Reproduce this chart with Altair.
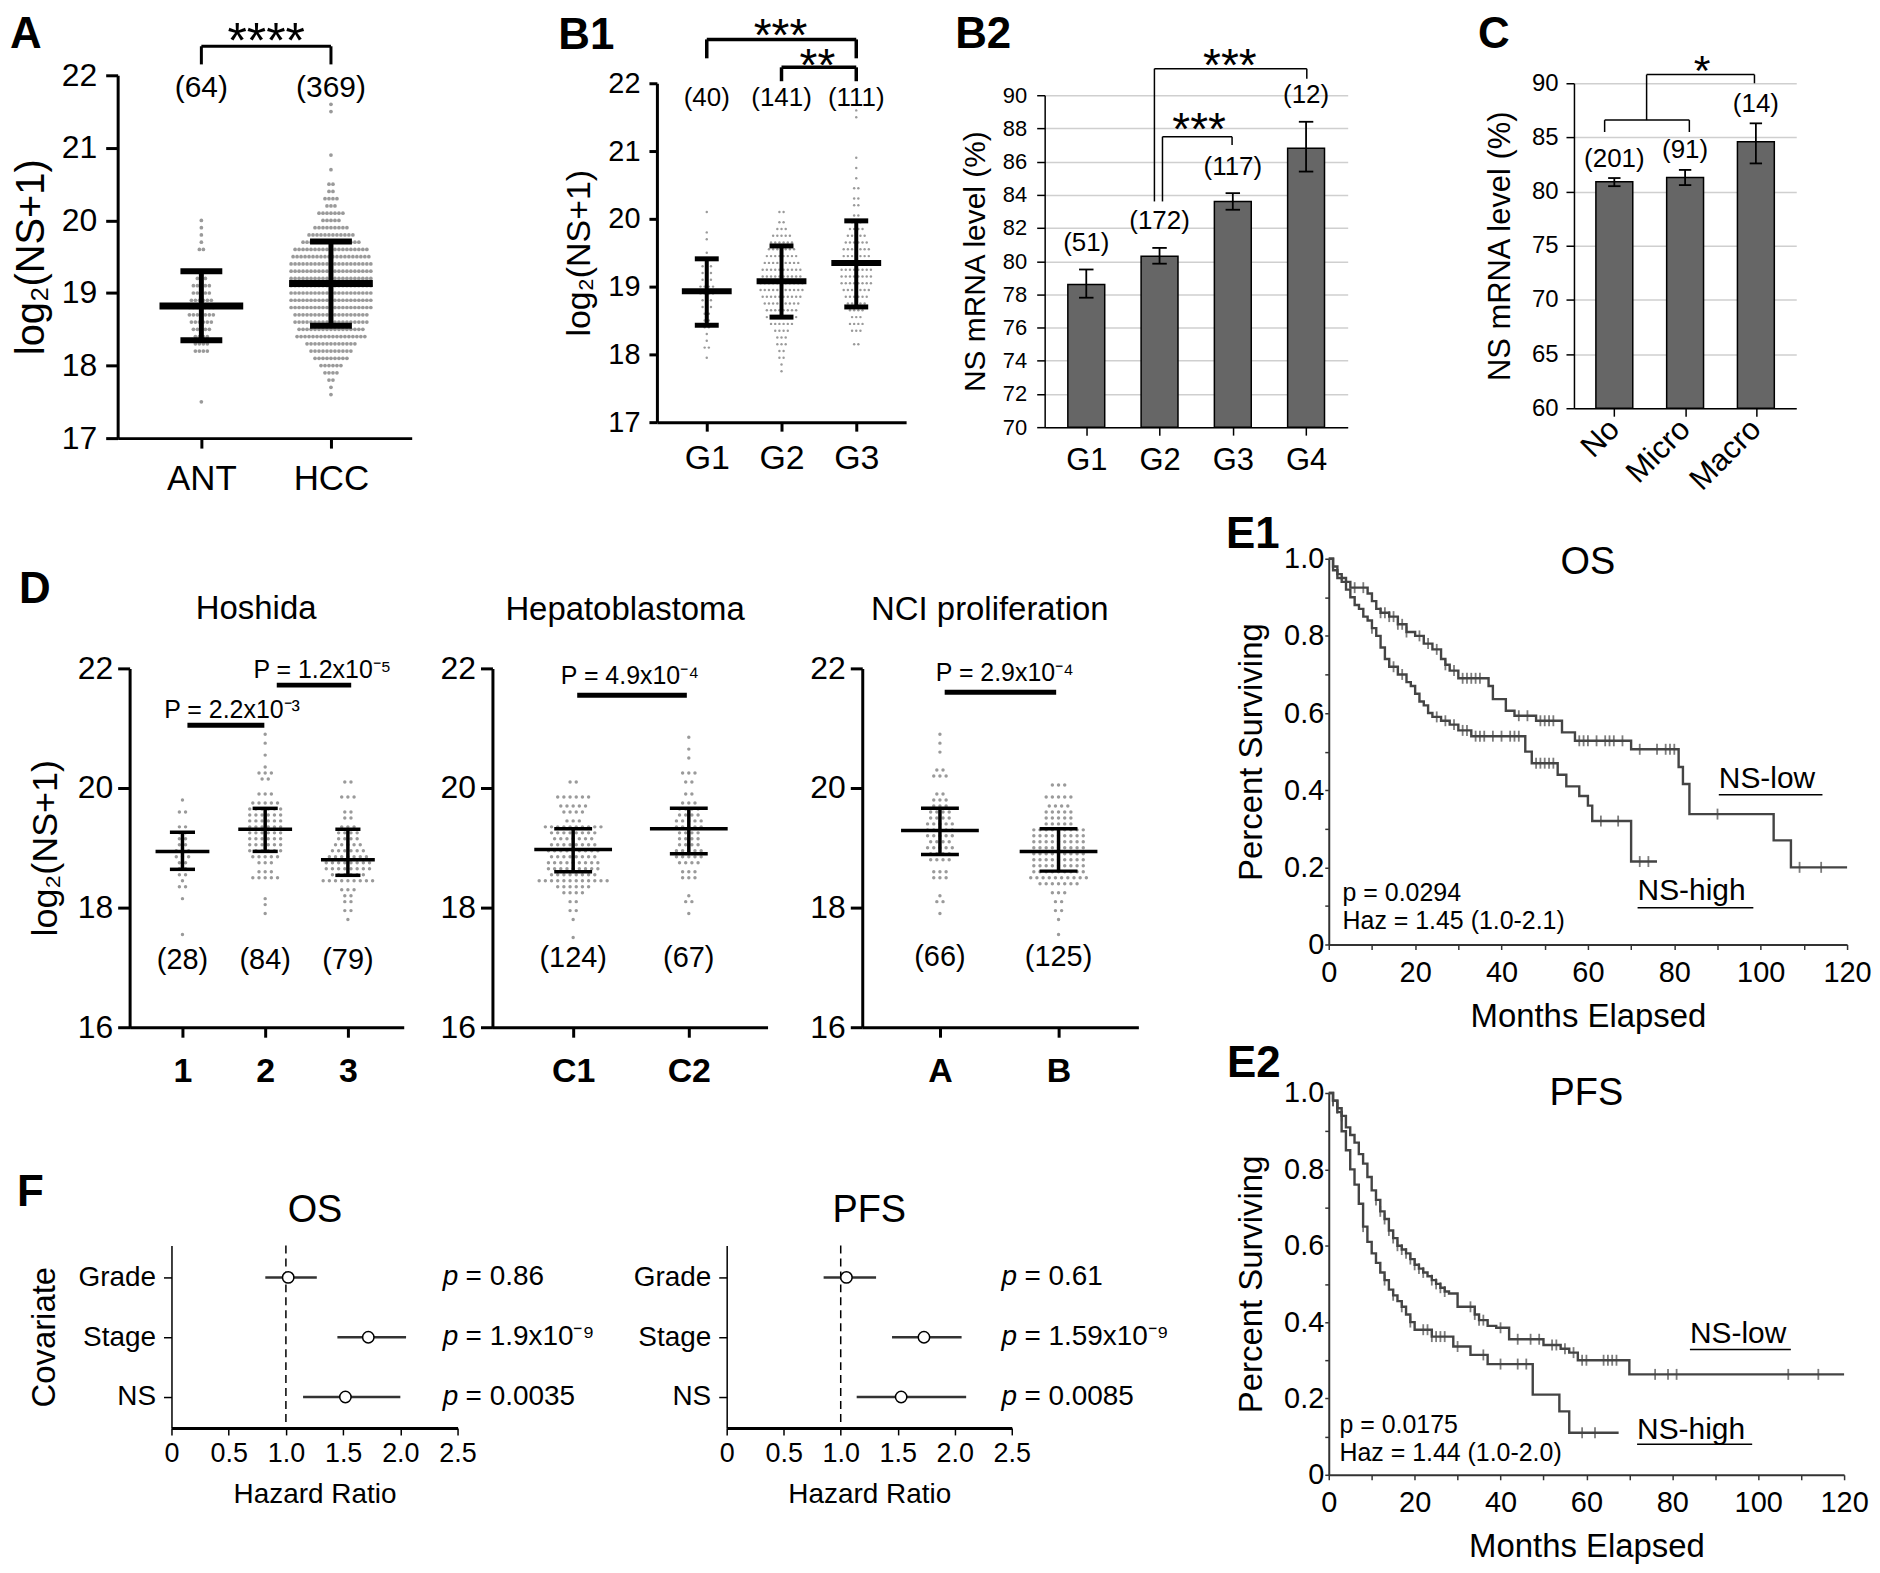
import altair as alt
import pandas as pd

FONT = "Liberation Sans"
DOT = "#9a9a9a"
BARFILL = "#666666"
KMC = "#444444"
AXC = "#333333"

# ======================= DATA =======================
# ---- Panel A : log2(NS+1), dot counts per value level ----
A_NAMES = ["ANT", "HCC"]
A_NLAB = ["(64)", "(369)"]
A_ANT_LEVELS = [17.5, 18.2, 18.3, 18.4, 18.5, 18.6, 18.7, 18.8, 18.9, 19.0, 19.1, 19.2, 19.3, 19.6, 19.7, 19.8, 19.9, 20.0]
A_ANT_COUNTS = [1, 4, 4, 4, 5, 6, 7, 7, 6, 5, 5, 3, 2, 2, 1, 1, 1, 1]
A_HCC_LEVELS = [17.6, 17.7, 17.8, 17.9, 18.0, 18.1, 18.2, 18.3, 18.4, 18.5, 18.6, 18.7, 18.8, 18.9, 19.0, 19.1,
                19.2, 19.3, 19.4, 19.5, 19.6, 19.7, 19.8, 19.9, 20.0, 20.1, 20.2, 20.3, 20.4, 20.5, 20.7, 20.9, 21.5, 21.6]
A_HCC_COUNTS = [1, 1, 2, 4, 6, 9, 11, 13, 18, 17, 19, 19, 21, 21, 21, 21,
                21, 21, 21, 20, 19, 15, 12, 9, 5, 7, 3, 4, 2, 2, 1, 1, 1, 1]
A_MEAN = [18.82, 19.13]
A_SD_LO = [18.35, 18.55]
A_SD_HI = [19.30, 19.71]

# ---- Panel B1 ----
B1_NAMES = ["G1", "G2", "G3"]
B1_NLAB = ["(40)", "(141)", "(111)"]
B1_G1_LEVELS = [17.95, 18.1, 18.2, 18.3, 18.4, 18.5, 18.6, 18.7, 18.8, 18.9, 19.0, 19.1, 19.2, 19.3, 19.4, 19.5, 19.7, 19.8, 20.1]
B1_G1_COUNTS = [1, 2, 1, 1, 2, 2, 2, 3, 3, 4, 4, 3, 3, 3, 2, 1, 1, 1, 1]
B1_G2_LEVELS = [17.75, 17.85, 17.95, 18.05, 18.15, 18.25, 18.35, 18.45, 18.55, 18.65, 18.75, 18.85,
                18.95, 19.05, 19.15, 19.25, 19.35, 19.45, 19.55, 19.65, 19.75, 19.85, 19.95, 20.1]
B1_G2_COUNTS = [1, 1, 2, 2, 3, 3, 4, 6, 8, 8, 9, 10, 11, 11, 10, 10, 9, 8, 7, 6, 5, 3, 2, 2]
B1_G3_LEVELS = [18.15, 18.35, 18.45, 18.55, 18.65, 18.75, 18.85, 18.95, 19.05, 19.15, 19.25, 19.35, 19.45, 19.55,
                19.65, 19.75, 19.85, 19.95, 20.05, 20.2, 20.3, 20.45, 20.6, 20.75, 20.9, 21.5, 21.6]
B1_G3_COUNTS = [2, 3, 4, 3, 4, 5, 6, 7, 8, 8, 8, 8, 7, 7, 6, 5, 4, 3, 2, 2, 2, 2, 1, 1, 1, 1, 1]
B1_MEAN = [18.93, 19.08, 19.35]
B1_SD_LO = [18.43, 18.55, 18.70]
B1_SD_HI = [19.41, 19.60, 19.97]

# ---- Panel B2 : NS mRNA level (%) by grade ----
B2_NAMES = ["G1", "G2", "G3", "G4"]
B2_NLAB = ["(51)", "(172)", "(117)", "(12)"]
B2_MEAN = [78.6, 80.3, 83.6, 86.8]
B2_ERR_LO = [77.8, 79.85, 83.1, 85.4]
B2_ERR_HI = [79.5, 80.8, 84.1, 88.4]

# ---- Panel C : vascular invasion ----
C_NAMES = ["No", "Micro", "Macro"]
C_NLAB = ["(201)", "(91)", "(14)"]
C_MEAN = [80.9, 81.3, 84.6]
C_ERR_LO = [80.5, 80.6, 82.6]
C_ERR_HI = [81.25, 82.0, 86.3]

# ---- Panel D ----
D1_NAMES = ["1", "2", "3"]
D1_NLAB = ["(28)", "(84)", "(79)"]
D1_G1_LEVELS = [17.55, 18.15, 18.35, 18.45, 18.55, 18.65, 18.75, 18.85, 18.95, 19.05, 19.15, 19.25, 19.35, 19.6, 19.8]
D1_G1_COUNTS = [1, 1, 2, 1, 2, 2, 2, 3, 3, 2, 2, 2, 2, 2, 1]
D1_G2_LEVELS = [17.9, 18.05, 18.15, 18.5, 18.6, 18.75, 18.85, 18.95, 19.05, 19.15, 19.25, 19.35, 19.45, 19.55,
                19.65, 19.75, 19.9, 20.15, 20.25, 20.35, 20.55, 20.75, 20.9]
D1_G2_COUNTS = [1, 1, 1, 5, 3, 3, 5, 6, 6, 6, 6, 6, 6, 6, 6, 5, 3, 2, 3, 1, 1, 1, 1]
D1_G3_LEVELS = [17.8, 17.95, 18.1, 18.2, 18.3, 18.45, 18.55, 18.65, 18.75, 18.85, 18.95, 19.05, 19.15, 19.25,
                19.35, 19.5, 19.6, 19.85, 20.1]
D1_G3_COUNTS = [1, 2, 2, 2, 3, 9, 6, 8, 8, 7, 6, 5, 4, 4, 3, 2, 2, 3, 2]
D1_MEAN = [18.94, 19.31, 18.80]
D1_SD_LO = [18.64, 18.94, 18.54]
D1_SD_HI = [19.26, 19.66, 19.31]

D2_NAMES = ["C1", "C2"]
D2_NLAB = ["(124)", "(67)"]
D2_C1_LEVELS = [17.5, 17.8, 17.95, 18.1, 18.25, 18.35, 18.45, 18.55, 18.65, 18.75, 18.85, 18.95, 19.05, 19.15,
                19.25, 19.35, 19.45, 19.6, 19.7, 19.85, 20.1]
D2_C1_COUNTS = [1, 1, 2, 2, 4, 6, 12, 8, 9, 9, 8, 9, 8, 7, 8, 10, 3, 4, 5, 6, 2]
D2_C2_LEVELS = [17.9, 18.1, 18.2, 18.5, 18.6, 18.75, 18.85, 18.95, 19.05, 19.15, 19.25, 19.35, 19.45, 19.55,
                19.65, 19.75, 19.9, 20.1, 20.25, 20.5, 20.65, 20.85]
D2_C2_COUNTS = [1, 2, 1, 3, 3, 4, 5, 5, 4, 4, 4, 5, 5, 4, 4, 3, 2, 2, 3, 1, 1, 1]
D2_MEAN = [18.97, 19.32]
D2_SD_LO = [18.60, 18.90]
D2_SD_HI = [19.32, 19.66]

D3_NAMES = ["A", "B"]
D3_NLAB = ["(66)", "(125)"]
D3_A_LEVELS = [17.9, 18.1, 18.2, 18.5, 18.6, 18.8, 18.9, 19.0, 19.1, 19.2, 19.3, 19.4, 19.5, 19.6, 19.7, 19.8,
               19.9, 20.2, 20.3, 20.6, 20.75, 20.9]
D3_A_COUNTS = [1, 2, 1, 3, 3, 4, 4, 5, 4, 5, 5, 5, 4, 4, 3, 3, 2, 3, 2, 1, 1, 1]
D3_B_LEVELS = [17.55, 17.8, 17.95, 18.1, 18.25, 18.4, 18.5, 18.6, 18.7, 18.8, 18.9, 19.0, 19.1, 19.2, 19.3,
               19.4, 19.5, 19.6, 19.7, 19.85, 20.05]
D3_B_COUNTS = [1, 1, 2, 2, 3, 7, 10, 9, 9, 9, 9, 9, 9, 9, 9, 5, 5, 5, 4, 5, 3]
D3_MEAN = [19.29, 18.94]
D3_SD_LO = [18.89, 18.61]
D3_SD_HI = [19.66, 19.32]

# ---- Panel E : Kaplan-Meier steps (months, fraction surviving) ----
OS_LOW_T = [0, 1, 2, 3, 4, 5, 9, 10, 11, 12, 14, 16, 18, 20, 22, 24, 26, 27, 28, 30, 37, 38, 41, 43, 48, 54, 57,
            70, 81, 82, 83.5, 103, 107, 120]
OS_LOW_S = [1.0, 0.98, 0.96, 0.95, 0.94, 0.925, 0.91, 0.89, 0.87, 0.86, 0.85, 0.83, 0.81, 0.80, 0.78, 0.765, 0.74,
            0.725, 0.71, 0.69, 0.67, 0.636, 0.606, 0.593, 0.58, 0.55, 0.528, 0.506, 0.46, 0.416, 0.338, 0.27, 0.20, 0.20]
OS_HIGH_T = [0, 1, 2, 3, 4, 5, 6, 7, 8, 9, 10, 11, 12, 13, 14, 16, 18, 19, 20, 21, 22, 23, 24, 26, 28, 30, 33,
             45.5, 47, 53, 55, 58, 60, 61, 70, 76]
OS_HIGH_S = [1.0, 0.97, 0.95, 0.94, 0.92, 0.90, 0.88, 0.87, 0.85, 0.84, 0.82, 0.80, 0.77, 0.74, 0.72, 0.70, 0.68,
             0.67, 0.65, 0.63, 0.62, 0.60, 0.59, 0.58, 0.57, 0.555, 0.54, 0.50, 0.47, 0.44, 0.41, 0.385, 0.36, 0.32,
             0.215, 0.215]
OS_LOW_CENS = [6, 8, 12, 13, 14, 15, 16, 17, 18, 21, 23, 25, 27, 29, 31, 32, 33, 34, 35, 44, 46, 49, 50, 51, 52,
               58, 59, 60, 62, 64, 65, 66, 68, 72, 76, 78, 79, 80, 90, 109, 114]
OS_HIGH_CENS = [10, 15, 17, 25, 27, 29, 31, 32, 34, 35, 36, 38, 40, 42, 43, 44, 48, 49, 50, 51, 52, 63, 67, 72, 74]

PFS_LOW_T = [0, 1, 2, 3, 4, 5, 6, 7, 8, 9, 10, 11, 12, 13, 14, 15, 16, 17, 18, 19, 20, 21, 22, 23, 24, 25, 26, 27,
             28, 30, 34, 35, 37, 39, 42, 50, 54, 56, 58, 70, 120]
PFS_LOW_S = [1.0, 0.98, 0.96, 0.94, 0.91, 0.89, 0.87, 0.84, 0.815, 0.78, 0.745, 0.72, 0.69, 0.67, 0.64, 0.62, 0.60,
             0.59, 0.58, 0.565, 0.55, 0.54, 0.53, 0.52, 0.51, 0.50, 0.49, 0.48, 0.475, 0.44, 0.42, 0.405, 0.39, 0.385,
             0.355, 0.34, 0.33, 0.32, 0.30, 0.263, 0.263]
PFS_HIGH_T = [0, 1, 2, 3, 4, 5, 6, 7, 8, 9, 10, 11, 12, 13, 14, 15, 16, 17, 18, 19, 20, 24, 29, 33, 37, 47.5, 53.7,
              56, 67.5]
PFS_HIGH_S = [1.0, 0.98, 0.95, 0.90, 0.85, 0.80, 0.76, 0.71, 0.65, 0.61, 0.58, 0.555, 0.53, 0.51, 0.485, 0.47,
              0.455, 0.44, 0.42, 0.40, 0.38, 0.362, 0.336, 0.314, 0.29, 0.21, 0.166, 0.11, 0.11]
PFS_LOW_CENS = [1, 2, 3, 11, 12, 13, 14, 15, 16, 17, 18, 19, 20, 21, 22, 24, 25, 26, 27, 33, 34, 35, 36, 40, 44, 47,
                49, 52, 53, 55, 57, 59, 60, 64, 65, 66, 67, 76, 79, 81, 107, 114]
PFS_HIGH_CENS = [1, 8, 13, 15, 17, 19, 22, 23, 24, 25, 26, 27, 30, 36, 40, 44, 46, 59, 62]

# ---- Panel F : Cox model hazard ratios ----
FOREST_COV = ["Grade", "Stage", "NS"]
OS_HR = [1.02, 1.72, 1.52]
OS_LO = [0.82, 1.45, 1.15]
OS_HI = [1.27, 2.05, 2.00]
OS_P = ["0.86", "1.9x10\u207b\u2079", "0.0035"]
PFS_HR = [1.05, 1.73, 1.53]
PFS_LO = [0.85, 1.45, 1.14]
PFS_HI = [1.31, 2.06, 2.10]
PFS_P = ["0.61", "1.59x10\u207b\u2079", "0.0085"]

LOG2_TITLE = "log\u2082(NS+1)"


# ======================= HELPERS =======================
def lin(lo, hi):
    return alt.Scale(domain=[lo, hi], nice=False, zero=False)


def cat_expr(names):
    return "[" + ",".join("'" + n + "'" for n in names) + "][round(datum.value) - 1]"


def swarm_df(level_lists, count_lists, dx):
    rows = []
    for gi, (levels, counts) in enumerate(zip(level_lists, count_lists), start=1):
        for lv, c in zip(levels, counts):
            for k in range(c):
                rows.append({"x": gi + (k - (c - 1) / 2.0) * dx, "y": lv})
    return pd.DataFrame(rows)


def L_text(items, X, Y, **mk):
    df = pd.DataFrame(items, columns=["x", "y", "t"])
    return alt.Chart(df).mark_text(**mk).encode(x=X("x"), y=Y("y"), text="t:N")


def L_segs(segs, X, Y, **mk):
    df = pd.DataFrame(segs, columns=["x", "y", "x2", "y2"])
    return alt.Chart(df).mark_rule(**mk).encode(x=X("x"), y=Y("y"), x2="x2", y2="y2")


def letter(x, y, t, X, Y):
    return L_text([(x, y, t)], X, Y, fontSize=44, fontWeight="bold", align="left", baseline="alphabetic")


def swarm_panel(levels, counts, means, lo, hi, names, nlab, p, extra):
    xs, ys = lin(*p["xdom"]), lin(*p["ydom"])
    ppx = p["w"] / (p["xdom"][1] - p["xdom"][0])
    xaxis = alt.Axis(values=list(range(1, len(names) + 1)), labelExpr=cat_expr(names), title=None,
                     domainWidth=p["aw"], tickWidth=p["aw"], tickSize=p["xtick"], labelFontSize=p["xfs"],
                     labelFontWeight=p.get("xfw", "normal"), labelPadding=p["xpad"], labelAngle=0,
                     labelFlush=False, labelOverlap=False)
    yaxis = alt.Axis(values=p["yvals"], title=p.get("ytitle"), titleFontSize=p.get("ytfs", 34),
                     titlePadding=p.get("ytpad", 10), domainWidth=p["aw"], tickWidth=p["aw"], tickSize=p["ytick"],
                     labelFontSize=p["yfs"], labelPadding=p["ypad"], labelFlush=False, labelOverlap=False)

    def X(f):
        return alt.X(f, type="quantitative", scale=xs, axis=xaxis)

    def Y(f):
        return alt.Y(f, type="quantitative", scale=ys, axis=yaxis)

    g = list(range(1, len(names) + 1))
    mh, chh = p["mean_px"] / ppx, p["cap_px"] / ppx
    layers = [
        alt.Chart(swarm_df(levels, counts, p["dot_px"] / ppx)).mark_circle(
            size=p["dot_size"], color=DOT, opacity=1).encode(x=X("x"), y=Y("y")),
        L_segs([(i, l, i, h) for i, l, h in zip(g, lo, hi)], X, Y, color="black", strokeWidth=p["vw"]),
        L_segs([(i - chh, v, i + chh, v) for i, v in zip(g + g, list(lo) + list(hi))], X, Y,
               color="black", strokeWidth=p["cw"]),
        L_segs([(i - mh, m, i + mh, m) for i, m in zip(g, means)], X, Y, color="black", strokeWidth=p["mw"]),
        L_text([(i, p["ny"], t) for i, t in zip(g, nlab)], X, Y, fontSize=p["nfs"], align="center",
               baseline="middle"),
    ]
    layers += extra(X, Y)
    return alt.layer(*layers).properties(width=p["w"], height=p["h"])


def bar_panel(names, vals, elo, ehi, nlab, p, extra):
    n = len(names)
    xs, ys = lin(0.5, n + 0.5), lin(*p["ydom"])
    ppx = p["w"] / n
    xaxis = alt.Axis(values=list(range(1, n + 1)), labelExpr=cat_expr(names), title=None, domainWidth=p["aw"],
                     tickWidth=p["aw"], tickSize=p["tick"], labelFontSize=p["xfs"], labelPadding=p["xpad"],
                     labelAngle=p.get("xangle", 0), labelAlign=p.get("xalign", "center"),
                     labelBaseline=p.get("xbase", "top"), labelFlush=False, labelOverlap=False)
    yaxis = alt.Axis(values=p["yvals"], title=p["ytitle"], titleFontSize=p["ytfs"], titlePadding=p["ytpad"],
                     domainWidth=p["aw"], tickWidth=p["aw"], tickSize=p["tick"], labelFontSize=p["yfs"],
                     labelPadding=p["ypad"], grid=True, gridColor="#cfcfcf", gridWidth=1.5,
                     labelFlush=False, labelOverlap=False)

    def X(f):
        return alt.X(f, type="quantitative", scale=xs, axis=xaxis)

    def Y(f):
        return alt.Y(f, type="quantitative", scale=ys, axis=yaxis)

    g = list(range(1, n + 1))
    chh = p["cap_px"] / ppx
    bars = alt.Chart(pd.DataFrame({"x": g, "v": vals, "b": [p["ydom"][0]] * n})).mark_bar(
        size=p["bw"], fill=BARFILL, stroke="black", strokeWidth=1.5).encode(x=X("x"), y=Y("v"), y2="b")
    layers = [
        bars,
        L_segs([(i, l, i, h) for i, l, h in zip(g, elo, ehi)], X, Y, color="black", strokeWidth=1.8),
        L_segs([(i - chh, v, i + chh, v) for i, v in zip(g + g, list(elo) + list(ehi))], X, Y,
               color="black", strokeWidth=1.8),
        L_text([(i, h + p["ngap"], t) for i, h, t in zip(g, ehi, nlab)], X, Y, fontSize=p["nfs"],
               align="center", baseline="middle"),
    ]
    layers += extra(X, Y)
    return alt.layer(*layers).properties(width=p["w"], height=p["h"])


def step_at(ts, ss, t):
    v = ss[0]
    for ti, si in zip(ts, ss):
        if ti <= t:
            v = si
        else:
            break
    return v


def km_panel(curves, cens, p, extra):
    xs, ys = lin(0, 120), lin(0, 1)
    common = dict(domainColor=AXC, tickColor=AXC, domainWidth=2, tickWidth=1.5, labelFontSize=29,
                  titleFontSize=33, labelFlush=False, labelOverlap=False)
    xaxis = alt.Axis(values=list(range(0, 121, 10)),
                     labelExpr="datum.value % 20 == 0 ? format(datum.value, 'd') : ''",
                     title="Months Elapsed", tickSize=5, labelPadding=9, titlePadding=13, **common)
    yaxis = alt.Axis(values=[i / 10 for i in range(11)],
                     labelExpr="datum.value == 0 ? '0' : (round(datum.value * 10) % 2 == 0 ? format(datum.value, '.1f') : '')",
                     title="Percent Surviving", tickSize=4, labelPadding=1, titlePadding=15, **common)

    def X(f):
        return alt.X(f, type="quantitative", scale=xs, axis=xaxis)

    def Y(f):
        return alt.Y(f, type="quantitative", scale=ys, axis=yaxis)

    rows, crow = [], []
    for gname, (ts, ss) in curves.items():
        for t, s in zip(ts, ss):
            rows.append({"g": gname, "t": t, "s": s})
        for t in cens[gname]:
            crow.append({"g": gname, "t": t, "s": step_at(ts, ss, t)})
    lines = alt.Chart(pd.DataFrame(rows)).mark_line(interpolate="step-after", color=KMC, strokeWidth=2.4).encode(
        x=X("t"), y=Y("s"), detail="g:N")
    ticks = alt.Chart(pd.DataFrame(crow)).mark_tick(orient="vertical", color=KMC, thickness=1.8, size=11).encode(
        x=X("t"), y=Y("s"))
    layers = [lines, ticks] + extra(X, Y)
    return alt.layer(*layers).properties(width=p["w"], height=p["h"])


def forest_panel(hr, lo, hi, ptxt, p, extra):
    xs = lin(0, 2.5)
    ys = lin(0.483, 3.533)
    ncov = len(FOREST_COV)
    xaxis = alt.Axis(values=[0, 0.5, 1, 1.5, 2, 2.5],
                     labelExpr="datum.value == 0 ? '0' : format(datum.value, '.1f')",
                     title="Hazard Ratio", titleFontSize=28, titlePadding=14, domainWidth=3, tickWidth=1.5,
                     tickSize=7, labelFontSize=27, labelPadding=6, labelFlush=False, labelOverlap=False)
    yaxis = alt.Axis(values=list(range(1, ncov + 1)), labelExpr=cat_expr(list(reversed(FOREST_COV))),
                     title=p.get("ytitle"), titleFontSize=33, titlePadding=17, domainWidth=1.5, tickWidth=1.5,
                     tickSize=8, labelFontSize=28, labelPadding=8, labelFlush=False, labelOverlap=False)

    def X(f):
        return alt.X(f, type="quantitative", scale=xs, axis=xaxis)

    def Y(f):
        return alt.Y(f, type="quantitative", scale=ys, axis=yaxis)

    df = pd.DataFrame({"r": [ncov - i for i in range(ncov)], "hr": hr, "lo": lo, "hi": hi,
                       "px": [p["px"]] * ncov, "pp": ["p"] * ncov, "pv": ["= " + s for s in ptxt]})
    ref = alt.Chart(pd.DataFrame({"x": [1.0]})).mark_rule(color="black", strokeWidth=1.5,
                                                          strokeDash=[8, 5]).encode(x=X("x"))
    ci = alt.Chart(df).mark_rule(color="#333333", strokeWidth=2.5).encode(x=X("lo"), x2="hi", y=Y("r"))
    pt = alt.Chart(df).mark_point(filled=True, fill="white", stroke="black", strokeWidth=1.5, size=130,
                                  opacity=1).encode(x=X("hr"), y=Y("r"))
    t1 = alt.Chart(df).mark_text(fontSize=28, fontStyle="italic", align="left", baseline="middle").encode(
        x=X("px"), y=Y("r"), text="pp:N")
    t2 = alt.Chart(df).mark_text(fontSize=28, align="left", baseline="middle", dx=23).encode(
        x=X("px"), y=Y("r"), text="pv:N")
    layers = [ref, ci, pt, t1, t2] + extra(X, Y)
    return alt.layer(*layers).properties(width=p["w"], height=p["h"])


def spacer(w, h):
    return alt.Chart(pd.DataFrame({"v": [0]})).mark_rule(opacity=0).encode(
        x=alt.value(0), y=alt.value(0), y2=alt.value(h)).properties(width=w, height=h)


def wrap_top(ch):
    # aligns this view by its top bound when placed in a row
    return alt.vconcat(spacer(1, 1), ch, spacing=0)


def wrap_left(ch, s=0):
    # aligns this view by its left bound when placed in a column
    return alt.hconcat(spacer(1, 1), ch, spacing=s)


# ======================= PANELS =======================
pA = dict(xdom=(0.354, 2.623), ydom=(17, 22), w=295, h=364, yvals=[17, 18, 19, 20, 21, 22], ytitle=LOG2_TITLE,
          ytfs=40, ytpad=10, aw=3, xtick=10, ytick=12, xfs=35, xpad=14, yfs=32, ypad=9, dot_px=4.0, dot_size=14,
          mean_px=42, cap_px=21, mw=7, cw=6, vw=5, ny=21.82, nfs=30)


def a_extra(X, Y):
    return [
        letter(-0.477, 22.37, "A", X, Y),
        L_segs([(1, 22.4, 2, 22.4), (1, 22.4, 1, 22.15), (2, 22.4, 2, 22.15)], X, Y, color="black", strokeWidth=3),
        L_text([(1.5, 22.24, "****")], X, Y, fontSize=50, align="center", baseline="alphabetic"),
    ]


panelA = swarm_panel([A_ANT_LEVELS, A_HCC_LEVELS], [A_ANT_COUNTS, A_HCC_COUNTS], A_MEAN, A_SD_LO, A_SD_HI,
                     A_NAMES, A_NLAB, pA, a_extra)

pB1 = dict(xdom=(0.333, 3.667), ydom=(17, 22), w=250, h=340, yvals=[17, 18, 19, 20, 21, 22], ytitle=LOG2_TITLE,
           ytfs=34, ytpad=11, aw=3, xtick=9, ytick=8, xfs=34, xpad=10, yfs=29, ypad=9, dot_px=4.2, dot_size=6,
           mean_px=25, cap_px=12, mw=6, cw=5, vw=4, ny=21.78, nfs=26)


def b1_extra(X, Y):
    return [
        letter(-0.987, 22.5, "B1", X, Y),
        L_segs([(1, 22.647, 3, 22.647), (1, 22.647, 1, 22.368), (3, 22.647, 3, 22.368),
                (2, 22.235, 3, 22.235), (2, 22.235, 2, 22.03), (3, 22.235, 3, 22.03)], X, Y,
               color="black", strokeWidth=3.5),
        L_text([(1.986, 22.47, "***"), (2.48, 22.03, "**")], X, Y, fontSize=46, align="center",
               baseline="alphabetic"),
    ]


panelB1 = swarm_panel([B1_G1_LEVELS, B1_G2_LEVELS, B1_G3_LEVELS], [B1_G1_COUNTS, B1_G2_COUNTS, B1_G3_COUNTS],
                      B1_MEAN, B1_SD_LO, B1_SD_HI, B1_NAMES, B1_NLAB, pB1, b1_extra)

pB2 = dict(ydom=(70, 90), w=304, h=333, yvals=list(range(70, 91, 2)), ytitle="NS mRNA level (%)", ytfs=30,
           ytpad=12, aw=1.5, tick=8, xfs=31, xpad=10, yfs=22, ypad=10, bw=37, cap_px=7.5, ngap=1.6, nfs=26)


def b2_extra(X, Y):
    return [
        letter(-0.79, 92.82, "B2", X, Y),
        L_segs([(2.04, 87.5, 2.99, 87.5), (2.04, 87.5, 2.04, 83.6), (2.99, 87.5, 2.99, 87.0),
                (1.93, 91.6, 4.01, 91.6), (1.93, 91.6, 1.93, 83.6), (4.01, 91.6, 4.01, 91.0)], X, Y,
               color="black", strokeWidth=1.5),
        L_text([(2.54, 86.99, "***"), (2.96, 90.84, "***")], X, Y, fontSize=46, align="center",
               baseline="alphabetic"),
    ]


panelB2 = bar_panel(B2_NAMES, B2_MEAN, B2_ERR_LO, B2_ERR_HI, B2_NLAB, pB2, b2_extra)

pC = dict(ydom=(60, 90), w=223, h=326, yvals=list(range(60, 91, 5)), ytitle="NS mRNA level (%)", ytfs=31,
          ytpad=15, aw=1.5, tick=8, xfs=31, xpad=8, xangle=-45, xalign="right", xbase="middle", yfs=24, ypad=8,
          bw=37, cap_px=6.5, ngap=1.8, nfs=26)


def c_extra(X, Y):
    return [
        letter(-0.927, 93.22, "C", X, Y),
        L_segs([(0.863, 86.6, 2.06, 86.6), (0.863, 86.6, 0.863, 85.5), (2.06, 86.6, 2.06, 85.5),
                (1.456, 86.6, 1.456, 90.8), (1.456, 90.8, 2.98, 90.8), (2.98, 90.8, 2.98, 90.0)], X, Y,
               color="black", strokeWidth=1.5),
        L_text([(2.24, 89.8, "*")], X, Y, fontSize=43, align="center", baseline="alphabetic"),
    ]


panelC = bar_panel(C_NAMES, C_MEAN, C_ERR_LO, C_ERR_HI, C_NLAB, pC, c_extra)

pD_common = dict(ydom=(16, 22), h=360, yvals=[16, 18, 20, 22], ytfs=36, ytpad=13, aw=3, xtick=10, ytick=12,
                 xfs=34, xfw="bold", xpad=17, yfs=32, ypad=5, dot_px=6.2, dot_size=12, mw=3.5, cw=3.5, vw=3.5,
                 nfs=29)
pD1 = dict(pD_common, xdom=(0.361, 3.675), w=275, ytitle=LOG2_TITLE, mean_px=27, cap_px=12.6, ny=17.12)
pD2 = dict(pD_common, xdom=(0.302, 2.681), w=276, mean_px=39, cap_px=19, ny=17.15)
pD3 = dict(pD_common, xdom=(0.345, 2.673), w=277, mean_px=39, cap_px=19, ny=17.17)


def d1_extra(X, Y):
    return [
        letter(-0.976, 23.1, "D", X, Y),
        L_text([(1.891, 23.0, "Hoshida")], X, Y, fontSize=33, align="center", baseline="middle"),
        L_text([(1.60, 21.3, "P = 2.2x10\u207b\u00b3"), (2.69, 21.97, "P = 1.2x10\u207b\u2075")], X, Y,
               fontSize=25, align="center", baseline="middle"),
        L_segs([(1.06, 21.05, 1.99, 21.05), (2.14, 21.72, 3.04, 21.72)], X, Y, color="black", strokeWidth=5),
    ]


def d2_extra(X, Y):
    return [
        L_text([(1.449, 22.97, "Hepatoblastoma")], X, Y, fontSize=33, align="center", baseline="middle"),
        L_text([(1.49, 21.88, "P = 4.9x10\u207b\u2074")], X, Y, fontSize=25, align="center", baseline="middle"),
        L_segs([(1.035, 21.55, 1.983, 21.55)], X, Y, color="black", strokeWidth=5),
    ]


def d3_extra(X, Y):
    return [
        L_text([(1.421, 22.97, "NCI proliferation")], X, Y, fontSize=33, align="center", baseline="middle"),
        L_text([(1.547, 21.93, "P = 2.9x10\u207b\u2074")], X, Y, fontSize=25, align="center", baseline="middle"),
        L_segs([(1.04, 21.6, 1.98, 21.6)], X, Y, color="black", strokeWidth=5),
    ]


panelD1 = swarm_panel([D1_G1_LEVELS, D1_G2_LEVELS, D1_G3_LEVELS], [D1_G1_COUNTS, D1_G2_COUNTS, D1_G3_COUNTS],
                      D1_MEAN, D1_SD_LO, D1_SD_HI, D1_NAMES, D1_NLAB, pD1, d1_extra)
panelD2 = swarm_panel([D2_C1_LEVELS, D2_C2_LEVELS], [D2_C1_COUNTS, D2_C2_COUNTS], D2_MEAN, D2_SD_LO, D2_SD_HI,
                      D2_NAMES, D2_NLAB, pD2, d2_extra)
panelD3 = swarm_panel([D3_A_LEVELS, D3_B_LEVELS], [D3_A_COUNTS, D3_B_COUNTS], D3_MEAN, D3_SD_LO, D3_SD_HI,
                      D3_NAMES, D3_NLAB, pD3, d3_extra)


def e1_extra(X, Y):
    return [
        letter(-23.8, 1.028, "E1", X, Y),
        L_text([(60, 0.99, "OS")], X, Y, fontSize=38, align="center", baseline="middle"),
        L_text([(3.2, 0.113, "p = 0.0294"), (3.2, 0.041, "Haz = 1.45 (1.0-2.1)")], X, Y, fontSize=25,
               align="left", baseline="alphabetic"),
        L_text([(90.3, 0.405, "NS-low"), (71.5, 0.115, "NS-high")], X, Y, fontSize=30, align="left",
               baseline="alphabetic"),
        L_segs([(90.3, 0.388, 114.3, 0.388), (71.5, 0.095, 98.3, 0.095)], X, Y, color="black", strokeWidth=1.5),
    ]


def e2_extra(X, Y):
    return [
        letter(-23.7, 1.042, "E2", X, Y),
        L_text([(60, 0.997, "PFS")], X, Y, fontSize=38, align="center", baseline="middle"),
        L_text([(2.5, 0.11, "p = 0.0175"), (2.5, 0.037, "Haz = 1.44 (1.0-2.0)")], X, Y, fontSize=25,
               align="left", baseline="alphabetic"),
        L_text([(84.1, 0.345, "NS-low"), (71.8, 0.095, "NS-high")], X, Y, fontSize=30, align="left",
               baseline="alphabetic"),
        L_segs([(84.1, 0.328, 107.6, 0.328), (71.8, 0.08, 98.6, 0.08)], X, Y, color="black", strokeWidth=1.5),
    ]


panelE1 = km_panel({"low": (OS_LOW_T, OS_LOW_S), "high": (OS_HIGH_T, OS_HIGH_S)},
                   {"low": OS_LOW_CENS, "high": OS_HIGH_CENS}, dict(w=520, h=387), e1_extra)
panelE2 = km_panel({"low": (PFS_LOW_T, PFS_LOW_S), "high": (PFS_HIGH_T, PFS_HIGH_S)},
                   {"low": PFS_LOW_CENS, "high": PFS_HIGH_CENS}, dict(w=517, h=383), e2_extra)


def f1_extra(X, Y):
    return [
        letter(-1.35, 4.2, "F", X, Y),
        L_text([(1.254, 4.117, "OS")], X, Y, fontSize=38, align="center", baseline="middle"),
    ]


def f2_extra(X, Y):
    return [L_text([(1.25, 4.117, "PFS")], X, Y, fontSize=38, align="center", baseline="middle")]


panelF1 = forest_panel(OS_HR, OS_LO, OS_HI, OS_P, dict(w=287, h=183, px=2.37, ytitle="Covariate"), f1_extra)
panelF2 = forest_panel(PFS_HR, PFS_LO, PFS_HI, PFS_P, dict(w=286, h=183, px=2.41), f2_extra)

# ======================= LAYOUT =======================
top = alt.hconcat(
    alt.hconcat(alt.hconcat(wrap_top(panelA), wrap_top(panelB1), spacing=147), wrap_top(panelB2), spacing=49),
    wrap_top(panelC), spacing=130)

drow = alt.hconcat(alt.hconcat(panelD1, panelD2, spacing=36), panelD3, spacing=42)
frow = alt.hconcat(panelF1, panelF2, spacing=38)
inner = alt.vconcat(wrap_left(drow, 2), wrap_left(frow, 0), spacing=82)
left = alt.vconcat(spacer(1, 1), inner, spacing=7)
right = alt.vconcat(panelE1, panelE2, spacing=8)
bottom = alt.hconcat(left, right, spacing=56)

chart = alt.vconcat(wrap_left(top, 0), wrap_left(bottom, 7), spacing=16).properties(
    padding={"left": 0, "top": 2, "right": 0, "bottom": 0})
chart = chart.configure(font=FONT).configure_view(strokeWidth=0).configure_axis(
    grid=False, domainColor="black", tickColor="black", labelColor="black", titleColor="black",
    titleFontWeight="normal", labelFont=FONT, titleFont=FONT).configure_text(
    font=FONT, color="black")

chart.save("out.html", embed_options={"renderer": "svg", "actions": False})
